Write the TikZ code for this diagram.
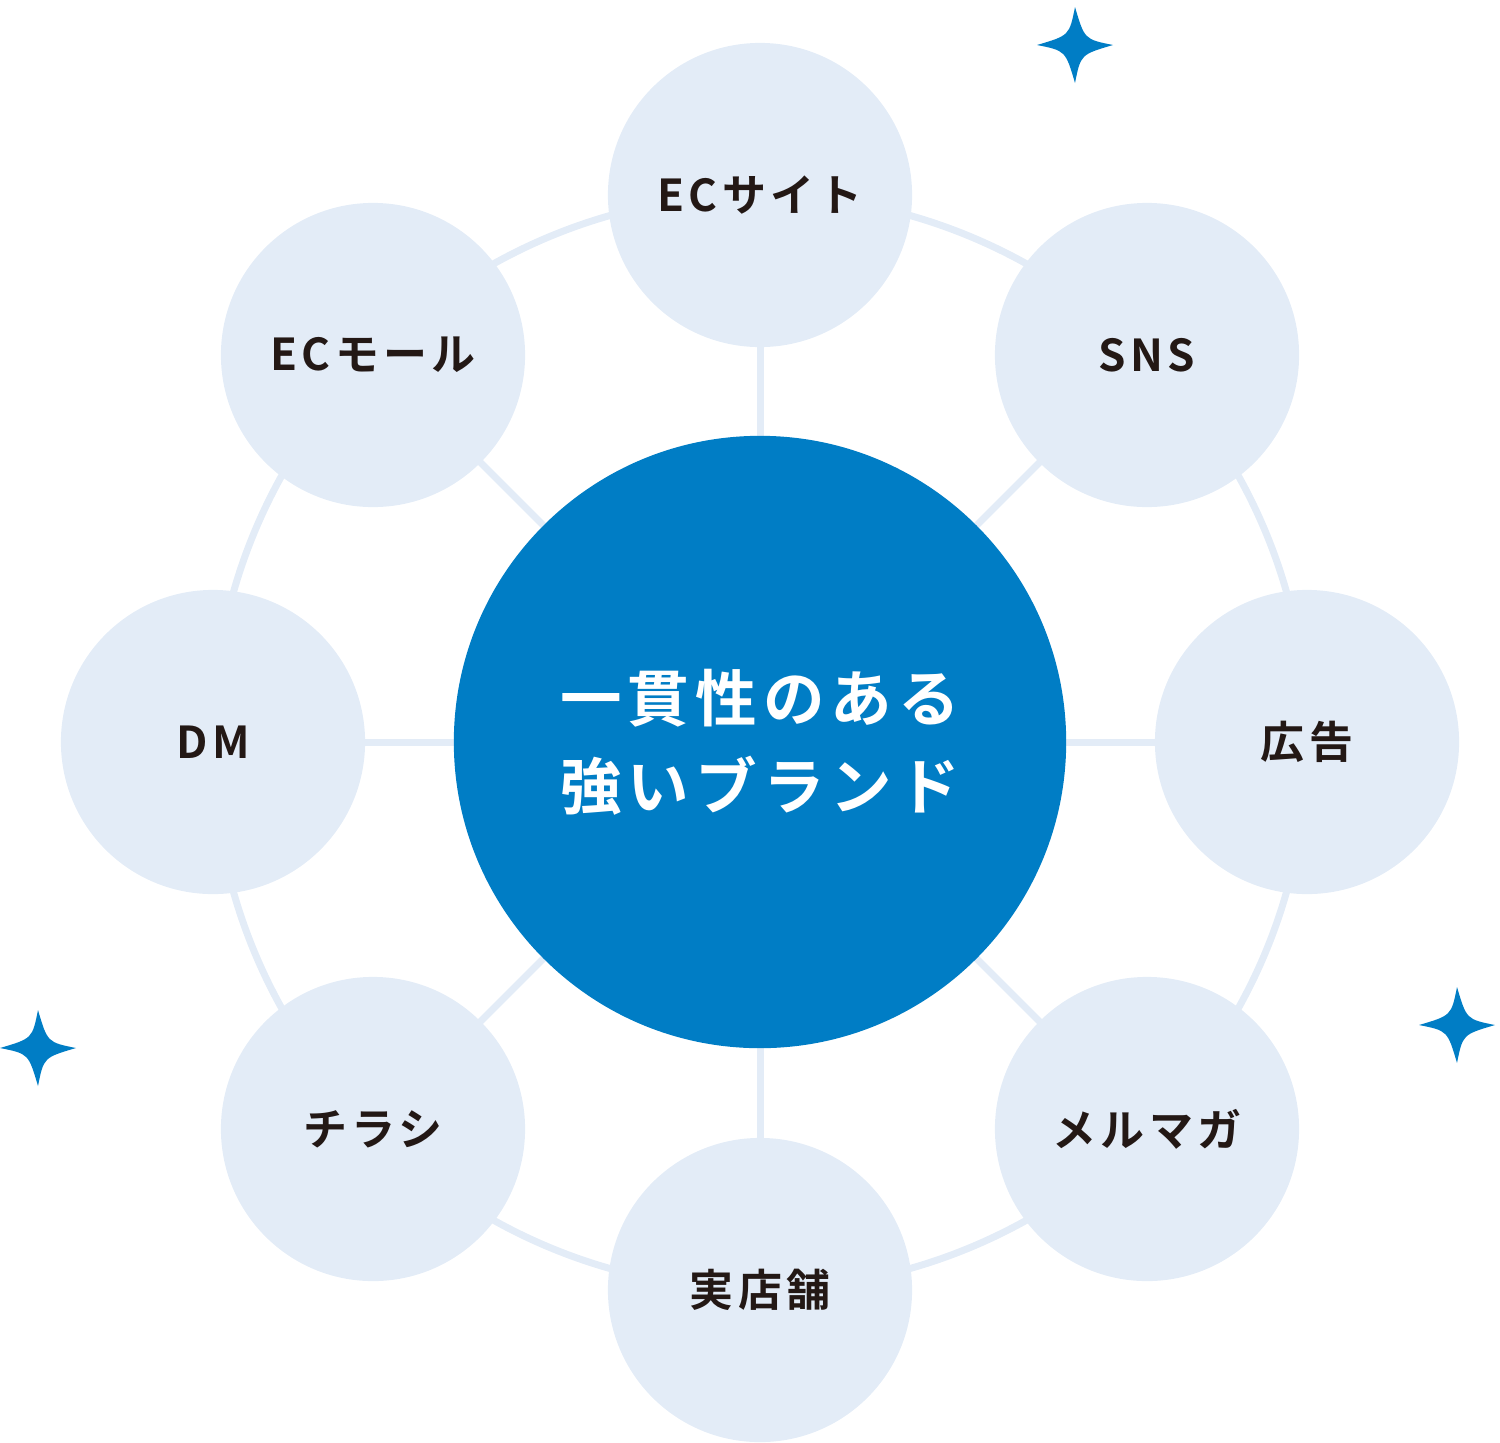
\documentclass[tikz,border=0pt]{standalone}
\usepackage{fontspec}
\newfontfamily\jpfont[LetterSpace=10]{Noto Sans CJK JP Bold}
\usetikzlibrary{positioning, backgrounds}
\definecolor{brandblue}{HTML}{007DC5}
\definecolor{palebg}{HTML}{E3ECF7}
\definecolor{inkdark}{HTML}{231815}
\tikzset{channel/.style={circle, fill=palebg, minimum size=3.04cm, inner sep=0pt, text=inkdark, font=\jpfont\fontsize{12.5}{14}\selectfont}}
\tikzset{core/.style={circle, fill=brandblue, minimum size=6.12cm, inner sep=0pt, text=white, align=center, font=\jpfont\fontsize{17.5}{25}\selectfont}}
\tikzset{ring/.style={draw=palebg, line width=0.07cm}}
\tikzset{sparkle/.style={fill=brandblue}}
\newcommand{\sparkleat}[2]{%
  \fill[sparkle] (#1) ++(0,#2) .. controls +(0.15*#2,-0.75*#2) .. ++(#2,-#2)
    .. controls +(-0.75*#2,-0.15*#2) .. ++(-#2,-#2)
    .. controls +(-0.15*#2,0.75*#2) .. ++(-#2,#2)
    .. controls +(0.75*#2,0.15*#2) .. cycle;}

\begin{document}
\begin{tikzpicture}[x=0.01cm, y=-0.01cm]
    \useasboundingbox (0,0) rectangle (1500,1442);

    \node[core] (brand) at (760,742) {一貫性のある\\強いブランド};

    \node[channel] (site) at (760,195) {ECサイト};
    \node[channel] (sns) at (1147,355) {SNS};
    \node[channel] (ad) at (1307,742) {広告};
    \node[channel] (mail) at (1147,1129) {メルマガ};
    \node[channel] (shop) at (760,1290) {実店舗};
    \node[channel] (flyer) at (373,1129) {チラシ};
    \node[channel] (dm) at (213,742) {DM};
    \node[channel] (mall) at (373,355) {ECモール};

    \begin{scope}[on background layer]
        \draw[ring] (brand.center) circle (5.47cm);
        \foreach \n in {site, sns, ad, mail, shop, flyer, dm, mall}
            \draw[ring] (brand.center) -- (\n.center);
    \end{scope}

    \sparkleat{1075,45}{38}
    \sparkleat{38,1048}{38}
    \sparkleat{1457,1025}{38}
\end{tikzpicture}
\end{document}
